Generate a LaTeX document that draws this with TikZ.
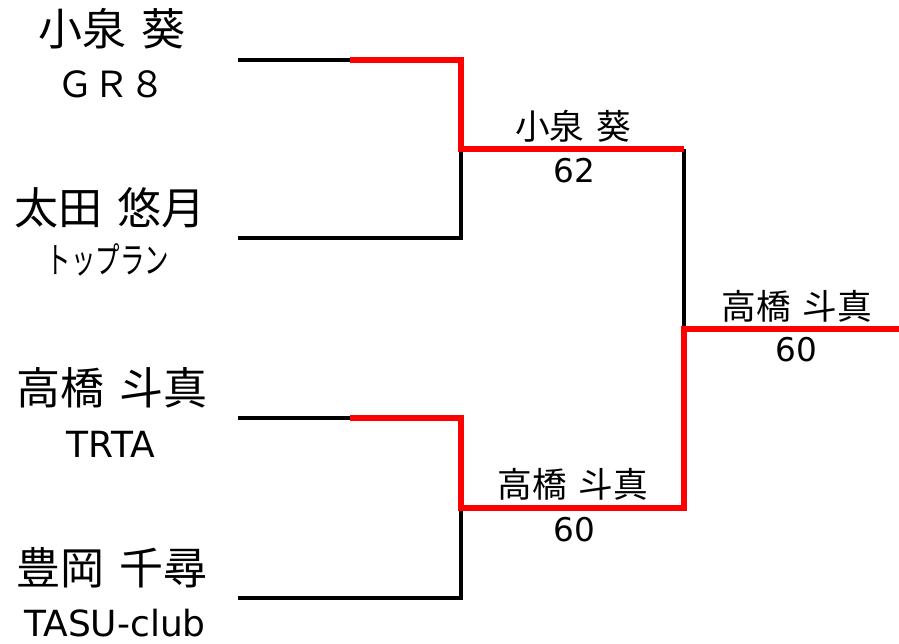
\documentclass[tikz,border=0pt]{standalone}
\usepackage{fontspec}
\setmainfont{DejaVu Sans}
\newfontfamily\jp[WordSpace=1.5]{Noto Sans CJK JP}
\begin{document}
\begin{tikzpicture}[x=0.75pt,y=-0.75pt,
  blk/.style={line width=3pt, black, line join=miter},
  win/.style={line width=4.9pt, red, line join=miter},
  player/.style={anchor=base, inner sep=0pt, font=\jp\fontsize{33}{33}\selectfont},
  team/.style={anchor=base, inner sep=0pt, font=\fontsize{27}{27}\selectfont},
  winner/.style={anchor=base, inner sep=0pt, font=\jp\fontsize{26}{26}\selectfont},
  score/.style={anchor=base, inner sep=0pt, font=\fontsize{24.5}{24.5}\selectfont}]
\useasboundingbox (0,0) rectangle (899,643);
% players
\node[player] (p1) at (112,45) {小泉 葵};
\node[team] (t1) at (111,97) {\jp ＧＲ８};
\node[player] (p2) at (110,224) {太田 悠月};
\node[team] (t2) at (108,273) {\jp\scalebox{0.68}[1]{トップラン}};
\node[player] (p3) at (112,404) {高橋 斗真};
\node[team] (t3) at (111,457) {TRTA};
\node[player] (p4) at (112,584) {豊岡 千尋};
\node[team] (t4) at (115,636) {TASU-club};
% winners
\node[winner] (w1) at (573,139) {小泉 葵};
\node[score] (s1) at (574,182) {62};
\node[winner] (w2) at (573,497) {高橋 斗真};
\node[score] (s2) at (574,541) {60};
\node[winner] (w3) at (797,319) {高橋 斗真};
\node[score] (s3) at (796,361) {60};
% bracket coordinates
\coordinate (a1) at (238,60);
\coordinate (m1) at (350,60);
\coordinate (c1) at (461,60);
\coordinate (j1) at (461,149);
\coordinate (e1) at (684,149);
\coordinate (a2) at (238,238);
\coordinate (c2) at (461,238);
\coordinate (a3) at (238,418);
\coordinate (m3) at (350,418);
\coordinate (c3) at (461,418);
\coordinate (j2) at (461,508);
\coordinate (e2) at (684,508);
\coordinate (a4) at (238,598);
\coordinate (c4) at (461,598);
\coordinate (f) at (684,329);
\coordinate (g) at (899,329);
% black lines
\draw[blk] (a1) -- (m1);
\draw[blk] (j1) -- (c2) -- (a2);
\draw[blk] (e1) -- (f);
\draw[blk] (a3) -- (m3);
\draw[blk] (j2) -- (c4) -- (a4);
% red (winner) lines
\draw[win] (m1) -- (c1) -- (j1) -- (e1);
\draw[win] (m3) -- (c3) -- (j2) -- (e2) -- (f) -- (g);
\end{tikzpicture}
\end{document}
